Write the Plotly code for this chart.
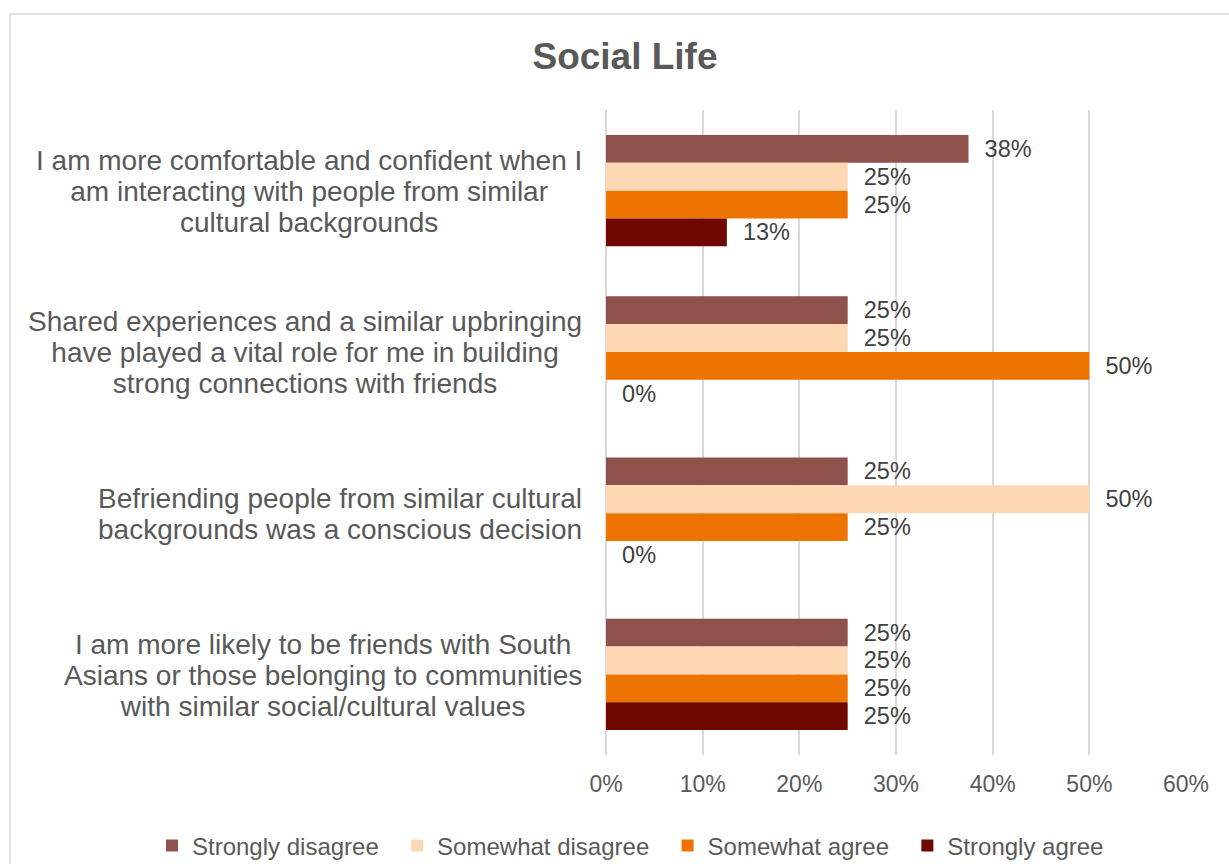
import plotly.graph_objects as go

# Survey statements (top to bottom) and response shares
statements = [
    "I am more comfortable and confident when I|am interacting with people from similar|cultural backgrounds",
    "Shared experiences and a similar upbringing|have played a vital role for me in building|strong connections with friends",
    "Befriending people from similar cultural|backgrounds was a conscious decision",
    "I am more likely to be friends with South|Asians or those belonging to communities|with similar social/cultural values",
]
strongly_disagree = [0.375, 0.25, 0.25, 0.25]
somewhat_disagree = [0.25, 0.25, 0.50, 0.25]
somewhat_agree = [0.25, 0.50, 0.25, 0.25]
strongly_agree = [0.125, 0.0, 0.0, 0.25]

series_names = ["Strongly disagree", "Somewhat disagree", "Somewhat agree", "Strongly agree"]
series_values = [strongly_disagree, somewhat_disagree, somewhat_agree, strongly_agree]
series_colors = ["#8E514C", "#FED8B4", "#EE7402", "#6E0800"]

x_ticks = [0, 0.1, 0.2, 0.3, 0.4, 0.5, 0.6]
x_tick_labels = ["0%", "10%", "20%", "30%", "40%", "50%", "60%"]

FONT = "Liberation Sans, Arial, sans-serif"
W, H = 1229, 864
ML, MR, MT, MB = 606, 42, 110, 109

cat_keys = [s.replace("|", " ") for s in statements]

fig = go.Figure()
for name, vals, col in zip(series_names, series_values, series_colors):
    fig.add_trace(go.Bar(
        name=name + "\u00a0\u00a0",
        x=vals,
        y=cat_keys,
        orientation="h",
        marker=dict(color=col, line=dict(width=0)),
        texttemplate="\u00a0\u00a0%{x:.0%}",
        textposition="outside",
        textfont=dict(family=FONT, size=23.5, color="#404040"),
        constraintext="none",
        cliponaxis=False,
        hoverinfo="skip",
    ))

# Category labels: block right-aligned against the axis, lines centred inside it
annotations = []
for key, s in zip(cat_keys, statements):
    lines = s.split("|")
    text = "<br>".join(f"<span style='font-size:28px'>{ln}</span>" for ln in lines)
    annotations.append(dict(
        x=0, xref="paper", xshift=-22, xanchor="right",
        y=key, yref="y", yanchor="middle", yshift=-1,
        text=text, align="center", showarrow=False,
        font=dict(family=FONT, size=24, color="#595959"),
    ))

pw = W - ML - MR
ph = H - MT - MB
# Outer chart frame (light grey border)
frame = dict(
    type="rect", xref="paper", yref="paper", layer="below",
    x0=(10 - ML) / pw, x1=(W + 20 - ML) / pw,
    y0=-(H + 20 - MT - ph) / ph, y1=1 + (MT - 14) / ph,
    line=dict(color="#D9D9D9", width=1.5), fillcolor="rgba(0,0,0,0)",
)

fig.update_layout(
    width=W, height=H,
    margin=dict(l=ML, r=MR, t=MT, b=MB, pad=0, autoexpand=False),
    paper_bgcolor="white", plot_bgcolor="white",
    barmode="group", bargap=0.31, bargroupgap=0,
    title=dict(
        text="<b>Social Life</b>", x=625 / W, xref="container", xanchor="center",
        y=1 - 56 / H, yref="container", yanchor="middle",
        font=dict(family=FONT, size=37, color="#595959"),
    ),
    xaxis=dict(
        range=[0, 0.601], tickvals=x_ticks, ticktext=x_tick_labels,
        showgrid=True, gridcolor="#D9D9D9", gridwidth=2,
        zeroline=True, zerolinecolor="#D9D9D9", zerolinewidth=2,
        showline=False, ticks="", ticklabelstandoff=13,
        tickfont=dict(family=FONT, size=23, color="#595959"),
    ),
    yaxis=dict(
        autorange="reversed", showticklabels=False, showgrid=False,
        zeroline=False, showline=False, ticks="",
    ),
    legend=dict(
        orientation="h", xref="paper", yref="paper",
        x=(152 - ML) / pw, xanchor="left",
        y=-(846 - (H - MB)) / ph, yanchor="middle",
        font=dict(family=FONT, size=24, color="#595959"),
        traceorder="normal", itemclick=False,
    ),
    annotations=annotations,
    shapes=[frame],
    showlegend=True,
)

fig.write_html("out.html")
